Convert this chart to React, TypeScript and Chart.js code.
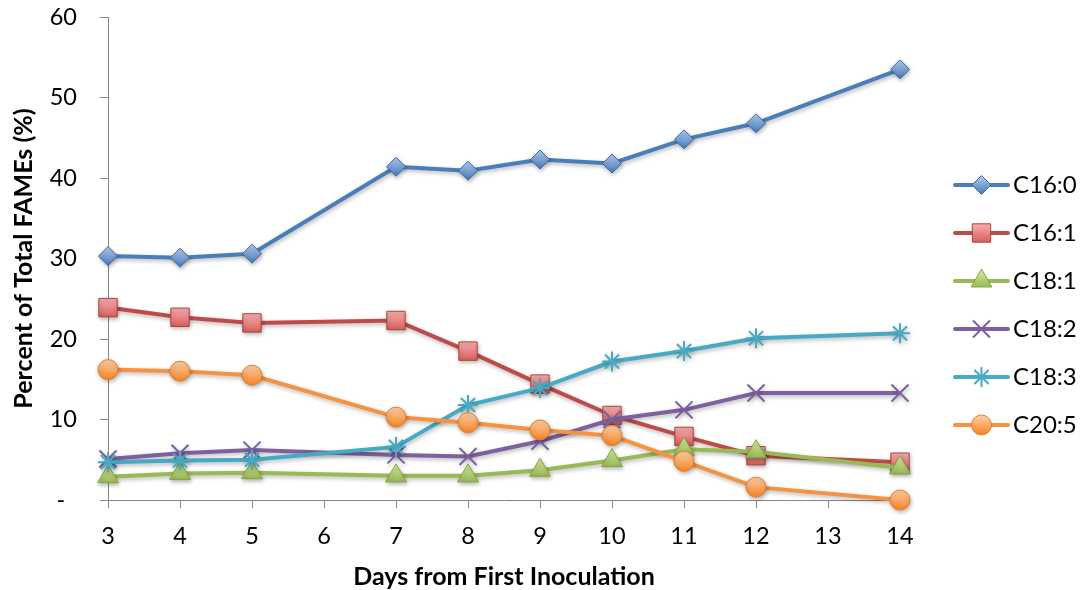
import { useEffect, useRef } from 'react';
import { Chart, registerables } from 'chart.js';
import * as helpers from 'chart.js/helpers';

Chart.register(...registerables);

// Sampling days (x axis) and the share of each fatty acid methyl ester (%)
const days = [3, 4, 5, 7, 8, 9, 10, 11, 12, 14];
const c16_0 = [30.3, 30.1, 30.6, 41.4, 40.9, 42.3, 41.8, 44.8, 46.8, 53.5];
const c16_1 = [23.9, 22.7, 22.0, 22.3, 18.5, 14.4, 10.5, 7.9, 5.5, 4.7];
const c18_1 = [2.9, 3.3, 3.4, 3.0, 3.0, 3.7, 4.9, 6.3, 6.0, 4.0];
const c18_2 = [5.1, 5.8, 6.2, 5.6, 5.4, 7.3, 10.0, 11.2, 13.3, 13.3];
const c18_3 = [4.7, 4.9, 5.0, 6.6, 11.8, 13.9, 17.2, 18.5, 20.1, 20.7];
const c20_5 = [16.2, 16.0, 15.5, 10.3, 9.6, 8.7, 8.0, 4.8, 1.6, 0.0];

const seriesNames = ['C16:0', 'C16:1', 'C18:1', 'C18:2', 'C18:3', 'C20:5'];
const seriesValues = [c16_0, c16_1, c18_1, c18_2, c18_3, c20_5];

const xTitle = 'Days from First Inoculation';
const yTitle = 'Percent of Total FAMEs (%)';

const FONT = 'Lato, "Open Sans", sans-serif';

type Style = {
  line: string;
  edge: string;
  light: string;
  dark: string;
  shape: string;
  radius: number;
  markerBorder: number;
};

const styles: Style[] = [
  { line: '#4A7EBB', edge: '#3C6BA5', light: '#A9C4EC', dark: '#4F81BD', shape: 'rectRot', radius: 9.5, markerBorder: 1 },
  { line: '#BE4B48', edge: '#B0403D', light: '#F7B4B3', dark: '#D65A57', shape: 'rect', radius: 13, markerBorder: 1 },
  { line: '#98B954', edge: '#86A644', light: '#CFE59A', dark: '#8CB043', shape: 'triangle', radius: 12, markerBorder: 1 },
  { line: '#7D60A0', edge: '#7D60A0', light: '#7D60A0', dark: '#7D60A0', shape: 'crossRot', radius: 12, markerBorder: 2 },
  { line: '#46AAC5', edge: '#46AAC5', light: '#46AAC5', dark: '#46AAC5', shape: 'star', radius: 10, markerBorder: 2 },
  { line: '#F69240', edge: '#E67E2A', light: '#FCC89D', dark: '#F58A30', shape: 'circle', radius: 10, markerBorder: 1 },
];

function markerFill(ctx: CanvasRenderingContext2D, y: number, r: number, s: Style) {
  if (!Number.isFinite(y)) return s.dark;
  const g = ctx.createLinearGradient(0, y - r, 0, y + r);
  g.addColorStop(0, s.light);
  g.addColorStop(1, s.dark);
  return g;
}

// Soft drop shadow under the series lines and markers
const seriesShadow = {
  id: 'seriesShadow',
  beforeDatasetsDraw(chart: any) {
    const ctx: CanvasRenderingContext2D = chart.ctx;
    ctx.save();
    ctx.shadowColor = 'rgba(0, 0, 0, 0.28)';
    ctx.shadowBlur = 4;
    ctx.shadowOffsetX = 1;
    ctx.shadowOffsetY = 2;
  },
  afterDatasetsDraw(chart: any) {
    chart.ctx.restore();
  },
};

// Legend on the right: a short line with the marker in its middle, then the name
const sideLegend = {
  id: 'sideLegend',
  afterDraw(chart: any) {
    const ctx: CanvasRenderingContext2D = chart.ctx;
    const area = chart.chartArea;
    const x0 = area.right + 55;
    const x1 = x0 + 53;
    const xm = (x0 + x1) / 2;
    ctx.save();
    seriesNames.forEach((name, i) => {
      const s = styles[i];
      const y = area.top + 168 + i * 48;
      ctx.beginPath();
      ctx.lineCap = 'round';
      ctx.lineWidth = 4;
      ctx.strokeStyle = s.line;
      ctx.moveTo(x0, y);
      ctx.lineTo(x1, y);
      ctx.stroke();
      ctx.fillStyle = markerFill(ctx, y, s.radius * 0.8, s);
      ctx.strokeStyle = s.edge;
      ctx.lineWidth = s.markerBorder;
      ctx.lineCap = 'butt';
      helpers.drawPoint(ctx, { pointStyle: s.shape as any, rotation: 0, radius: s.radius, borderWidth: s.markerBorder }, xm, y);
      ctx.fillStyle = '#000';
      ctx.font = `24px ${FONT}`;
      ctx.textBaseline = 'middle';
      ctx.textAlign = 'left';
      ctx.fillText(name, x1 + 5, y);
    });
    ctx.restore();
  },
};

export default function App() {
  const ref = useRef<HTMLCanvasElement>(null);

  useEffect(() => {
    document.body.style.margin = '0';
    const canvas = ref.current;
    if (!canvas) return;

    const datasets = seriesNames.map((name, i) => {
      const s = styles[i];
      return {
        label: name,
        data: days.map((d, j) => ({ x: d, y: seriesValues[i][j] })),
        borderColor: s.line,
        borderWidth: 4,
        tension: 0,
        clip: false as const,
        order: seriesNames.length - i,
        pointStyle: s.shape,
        pointRadius: s.radius,
        pointHoverRadius: s.radius,
        pointBorderWidth: s.markerBorder,
        pointBorderColor: s.edge,
        pointBackgroundColor: (c: any) => {
          if (c.type !== 'data' || !c.chart.scales?.y || !c.parsed) return s.dark;
          const yPix = c.chart.scales.y.getPixelForValue(c.parsed.y);
          return markerFill(c.chart.ctx, yPix, s.radius * 0.8, s);
        },
      };
    });

    const tickFont = { family: FONT, size: 23.5 };
    const titleFont = { family: FONT, size: 25, weight: 'bold' as const };

    const chart = new Chart(canvas, {
      type: 'line',
      data: { datasets },
      plugins: [seriesShadow, sideLegend],
      options: {
        responsive: false,
        animation: false,
        events: [],
        layout: { padding: { top: 17, right: 181, left: 0, bottom: 0 } },
        plugins: { legend: { display: false }, tooltip: { enabled: false } },
        scales: {
          x: {
            type: 'linear',
            min: 3,
            max: 14,
            ticks: { stepSize: 1, font: tickFont, color: '#000', padding: 14 },
            grid: { drawOnChartArea: false, tickLength: 8, color: '#868686' },
            border: { color: '#868686', width: 1 },
            title: { display: true, text: xTitle, font: titleFont, color: '#000', padding: { top: 0, bottom: -2 } },
            afterFit(scale: any) {
              scale.height = 90;
              scale.paddingLeft = 0;
              scale.paddingRight = 0;
            },
          },
          y: {
            min: 0,
            max: 60,
            ticks: {
              stepSize: 10,
              font: tickFont,
              color: '#000',
              padding: 23,
              callback: (v: any) => (v === 0 ? '-\u2002' : String(v)),
            },
            grid: { drawOnChartArea: false, tickLength: 8, color: '#868686' },
            border: { color: '#868686', width: 1 },
            title: { display: true, text: yTitle, font: titleFont, color: '#000', padding: { top: 9, bottom: 0 } },
            afterFit(scale: any) {
              scale.width = 108;
              scale.paddingTop = 0;
              scale.paddingBottom = 0;
            },
          },
        },
      } as any,
    });

    return () => chart.destroy();
  }, []);

  return (
    <div style={{ width: 1081, height: 590 }}>
      <canvas ref={ref} width={1081} height={590} style={{ display: 'block' }} />
    </div>
  );
}
